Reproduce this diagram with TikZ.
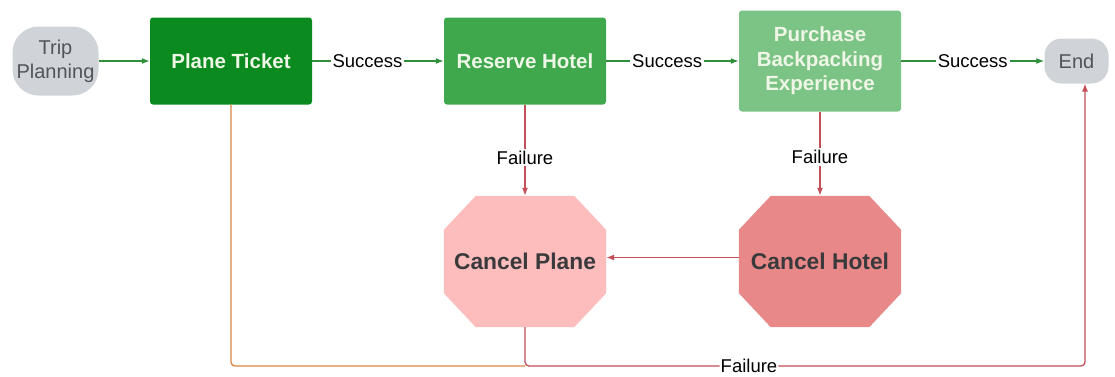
\documentclass[tikz,border=0pt]{standalone}
\usepackage{fontspec}
\setmainfont{Liberation Sans}
\usetikzlibrary{arrows.meta,calc,backgrounds}
\definecolor{gA}{HTML}{0B8A1F}
\definecolor{gB}{HTML}{3FA84D}
\definecolor{gC}{HTML}{7CC386}
\definecolor{gline}{HTML}{2F8F3A}
\definecolor{termfill}{HTML}{D0D3D7}
\definecolor{termtext}{HTML}{50555C}
\definecolor{boxtext}{HTML}{EEF6E6}
\definecolor{pinkA}{HTML}{FDBDBD}
\definecolor{pinkB}{HTML}{E88888}
\definecolor{rline}{HTML}{C24E58}
\definecolor{oline}{HTML}{DD8443}
\definecolor{octtext}{HTML}{3A3A3C}
\newcommand\octfill[2]{\fill[#2] ($(#1.north west)+(32,0)$) -- ($(#1.north east)+(-32,0)$) -- ($(#1.north east)+(0,34)$) -- ($(#1.south east)+(0,-34)$) -- ($(#1.south east)+(-32,0)$) -- ($(#1.south west)+(32,0)$) -- ($(#1.south west)+(0,-34)$) -- ($(#1.north west)+(0,34)$) -- cycle;}
\begin{document}
\begin{tikzpicture}[x=1pt,y=-1pt,
  term/.style={fill=termfill, text=termtext, align=center, inner sep=0pt,
    font=\fontsize{20}{24}\selectfont},
  box/.style={rounded corners=3, text=boxtext, align=center, inner sep=0pt,
    minimum width=162, minimum height=87, font=\fontsize{20.5}{24.5}\selectfont\bfseries},
  oct/.style={minimum width=162, minimum height=131, inner sep=0pt, text=octtext,
    font=\fontsize{22.8}{26}\selectfont\bfseries},
  lbl/.style={fill=white, inner sep=2pt, text=black, font=\fontsize{18.5}{22}\selectfont},
  garrow/.style={draw=gline, line width=1.3, -{Latex[length=8,width=6]}},
  rarrow/.style={draw=rline, line width=1.3, -{Latex[length=8,width=6]}},
  oarrow/.style={draw=oline, line width=1.3}
]
\useasboundingbox (0,0) rectangle (1115,376);

\node[term, minimum width=86, minimum height=69, rounded corners=26] (trip) at (55.5,61) {Trip\\Planning};
\node[box, fill=gA] (pt) at (231,61) {Plane Ticket};
\node[box, fill=gB] (rh) at (525,61) {Reserve Hotel};
\node[box, fill=gC, minimum height=101] (pb) at (820,61) {Purchase\\Backpacking\\Experience};
\node[term, minimum width=64, minimum height=45, rounded corners=17] (end) at (1076.5,61) {End};

\node[oct] (cp) at (525,261.5) {Cancel Plane};
\node[oct] (ch) at (820,261.5) {Cancel Hotel};
\begin{scope}[on background layer]
\octfill{cp}{pinkA}
\octfill{ch}{pinkB}
\end{scope}

\coordinate (endin) at (1085,83.5);
\coordinate (br) at (1085,366);

\draw[garrow] (trip.east |- pt.west) -- (pt.west);
\draw[garrow] (pt) -- node[lbl,pos=0.42]{Success} (rh);
\draw[garrow] (rh) -- node[lbl,pos=0.46]{Success} (pb);
\draw[garrow] (pb) -- node[lbl,pos=0.5]{Success} (end.west |- pb.east);

\draw[rarrow] (rh) -- node[lbl,pos=0.58]{Failure} (cp);
\draw[rarrow] (pb) -- node[lbl,pos=0.54]{Failure} (ch);
\draw[rarrow] ([yshift=4]ch.west) -- ([yshift=4]cp.east);

\draw[oarrow, rounded corners=4] (pt.south) |- (cp.south |- br);
\draw[rarrow, rounded corners=4] (cp.south) -- (cp.south |- br) -- node[lbl,pos=0.4,inner sep=1pt]{Failure} (br) -- (endin);
\end{tikzpicture}
\end{document}
